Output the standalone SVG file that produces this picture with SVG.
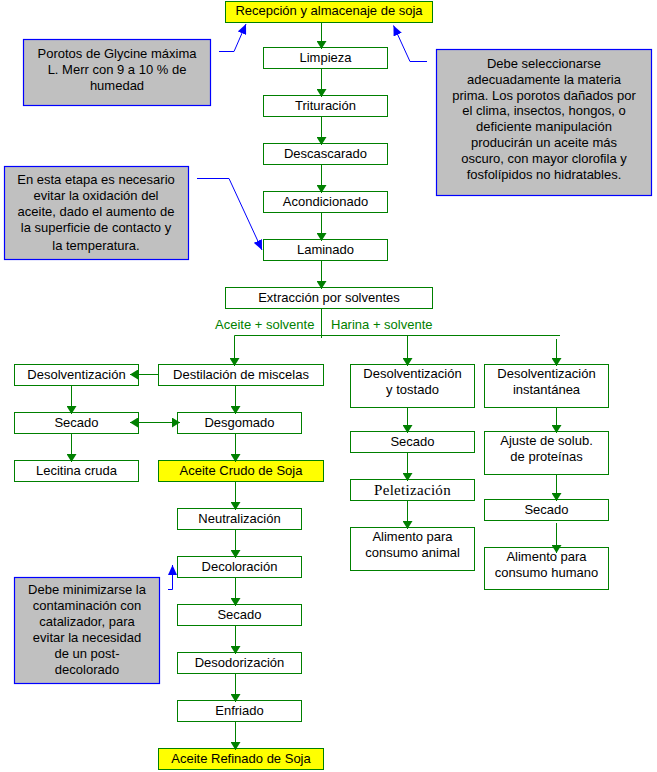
<svg xmlns="http://www.w3.org/2000/svg" width="657" height="772" viewBox="0 0 657 772">
<style>
text{font-family:"Liberation Sans",Arial,sans-serif;font-size:13px;fill:#000;text-anchor:middle}
.box{fill:#fff;stroke:#008000;stroke-width:1}
.hl{fill:#ffff00;stroke:#008000;stroke-width:1}
.note{fill:#c0c0c0;stroke:#0000ff;stroke-width:1.2}
.g{stroke:#008000;stroke-width:1;fill:none;marker-end:url(#ga)}
.gn{stroke:#008000;stroke-width:1;fill:none}
.b{stroke:#0000ff;stroke-width:1;fill:none;marker-end:url(#ba)}
.lbl{fill:#008000;text-anchor:start}
.serif{font-family:"Liberation Serif","Times New Roman",serif;font-size:15px;letter-spacing:0.3px}
</style>
<defs>
<marker id="ga" viewBox="0 0 8 10" refX="8" refY="5" markerWidth="8" markerHeight="10" markerUnits="userSpaceOnUse" orient="auto-start-reverse"><path d="M0,0L8,5L0,10z" fill="#008000"/></marker>
<marker id="ba" viewBox="0 0 10 9" refX="10" refY="4.5" markerWidth="10" markerHeight="9" markerUnits="userSpaceOnUse" orient="auto"><path d="M0,0L10,4.5L0,9z" fill="#0000ff"/></marker>
</defs>
<rect width="657" height="772" fill="#fff"/>

<g id="recepcion"><rect class="hl" x="225.5" y="1.5" width="207" height="21"/><text x="329" y="14.5">Recepción y almacenaje de soja</text></g>
<g id="limpieza"><rect class="box" x="263.5" y="47.5" width="124" height="21"/><text x="325.5" y="62">Limpieza</text></g>
<g id="trituracion"><rect class="box" x="263.5" y="95.5" width="124" height="21"/><text x="325.5" y="110">Trituración</text></g>
<g id="descascarado"><rect class="box" x="263.5" y="143.5" width="124" height="21"/><text x="325.5" y="158">Descascarado</text></g>
<g id="acondicionado"><rect class="box" x="263.5" y="191.5" width="124" height="21"/><text x="325.5" y="206">Acondicionado</text></g>
<g id="laminado"><rect class="box" x="263.5" y="239.5" width="124" height="21"/><text x="325.5" y="254">Laminado</text></g>
<g id="extraccion"><rect class="box" x="225.5" y="287.5" width="207" height="21"/><text x="329" y="302">Extracción por solventes</text></g>

<g id="destilacion"><rect class="box" x="158.5" y="364.5" width="165" height="21"/><text x="241" y="378.5">Destilación de miscelas</text></g>
<g id="desolv-left"><rect class="box" x="14.5" y="364.5" width="124" height="21"/><text x="76.5" y="378.5">Desolventización</text></g>
<g id="secado-left"><rect class="box" x="14.5" y="412.5" width="124" height="21"/><text x="76.5" y="426.5">Secado</text></g>
<g id="desgomado"><rect class="box" x="177.5" y="412.5" width="124" height="21"/><text x="239.5" y="426.5">Desgomado</text></g>
<g id="lecitina"><rect class="box" x="14.5" y="460.5" width="124" height="21"/><text x="76.5" y="474.5">Lecitina cruda</text></g>
<g id="aceite-crudo"><rect class="hl" x="158.5" y="460.5" width="165" height="21"/><text x="241" y="474.5">Aceite Crudo de Soja</text></g>
<g id="neutralizacion"><rect class="box" x="177.5" y="508.5" width="124" height="21"/><text x="239.5" y="522.5">Neutralización</text></g>
<g id="decoloracion"><rect class="box" x="177.5" y="556.5" width="124" height="21"/><text x="239.5" y="570.5">Decoloración</text></g>
<g id="secado-bottom"><rect class="box" x="177.5" y="604.5" width="124" height="21"/><text x="239.5" y="618.5">Secado</text></g>
<g id="desodorizacion"><rect class="box" x="177.5" y="652.5" width="124" height="21"/><text x="239.5" y="666.5">Desodorización</text></g>
<g id="enfriado"><rect class="box" x="177.5" y="700.5" width="124" height="21"/><text x="239.5" y="714.5">Enfriado</text></g>
<g id="aceite-refinado"><rect class="hl" x="158.5" y="748.5" width="165" height="21"/><text x="241" y="762.5">Aceite Refinado de Soja</text></g>

<g id="desolv-tostado"><rect class="box" x="350.5" y="364.5" width="124" height="43"/><text x="412.5" y="378">Desolventización</text><text x="412.5" y="394">y tostado</text></g>
<g id="secado-mid"><rect class="box" x="350.5" y="431.5" width="124" height="21"/><text x="412.5" y="445.5">Secado</text></g>
<g id="peletizacion"><rect class="box" x="350.5" y="479.5" width="124" height="21"/><text class="serif" x="412.5" y="495">Peletización</text></g>
<g id="alimento-animal"><rect class="box" x="350.5" y="527.5" width="124" height="43"/><text x="412.5" y="541">Alimento para</text><text x="412.5" y="557">consumo animal</text></g>

<g id="desolv-instant"><rect class="box" x="484.5" y="364.5" width="124" height="43"/><text x="546.5" y="378">Desolventización</text><text x="546.5" y="394">instantánea</text></g>
<g id="ajuste"><rect class="box" x="484.5" y="431.5" width="124" height="43"/><text x="546.5" y="445">Ajuste de solub.</text><text x="546.5" y="461">de proteínas</text></g>
<g id="secado-right"><rect class="box" x="484.5" y="499.5" width="124" height="21"/><text x="546.5" y="513.5">Secado</text></g>
<g id="alimento-humano"><rect class="box" x="484.5" y="547.5" width="124" height="42"/><text x="546.5" y="561">Alimento para</text><text x="546.5" y="577">consumo humano</text></g>

<g id="nota-porotos"><rect class="note" x="23.5" y="39.5" width="187" height="66"/><text x="117" y="58">Porotos de Glycine máxima</text><text x="117" y="74">L. Merr con 9 a 10 % de</text><text x="117" y="90">humedad</text></g>
<g id="nota-materia"><rect class="note" x="436.5" y="49.5" width="215" height="146"/><text x="544" y="68">Debe seleccionarse</text><text x="544" y="84">adecuadamente la materia</text><text x="544" y="99.5">prima. Los porotos dañados por</text><text x="544" y="115">el clima, insectos, hongos, o</text><text x="544" y="131">deficiente manipulación</text><text x="544" y="147">producirán un aceite más</text><text x="544" y="163">oscuro, con mayor clorofila y</text><text x="544" y="178.5">fosfolípidos no hidratables.</text></g>
<g id="nota-oxidacion"><rect class="note" x="4.5" y="166.5" width="184" height="93"/><text x="96" y="184">En esta etapa es necesario</text><text x="96" y="200">evitar la oxidación del</text><text x="96" y="216">aceite, dado el aumento de</text><text x="96" y="232">la superficie de contacto y</text><text x="96" y="249.5">la temperatura.</text></g>
<g id="nota-catalizador"><rect class="note" x="14.5" y="577.5" width="145" height="106"/><text x="87" y="594">Debe minimizarse la</text><text x="87" y="610">contaminación con</text><text x="87" y="626">catalizador, para</text><text x="87" y="642">evitar la necesidad</text><text x="87" y="657.5">de un post-</text><text x="87" y="674">decolorado</text></g>

<g id="connectors">
<path class="g" d="M321.5,22V49"/>
<path class="g" d="M321.5,68V97"/>
<path class="g" d="M321.5,116V145"/>
<path class="g" d="M321.5,164V193"/>
<path class="g" d="M321.5,212V241"/>
<path class="g" d="M321.5,260V289"/>
<path class="gn" d="M321.5,308V338"/>
<path class="gn" d="M234.5,335.5H560"/>
<path class="g" d="M234.5,335.5V366"/>
<path class="g" d="M407.5,335.5V366"/>
<path class="g" d="M556.5,339V366"/>
<path class="g" d="M235.5,385V414"/>
<path class="g" d="M235.5,433V462"/>
<path class="g" d="M235.5,481V510"/>
<path class="g" d="M235.5,529V558"/>
<path class="g" d="M235.5,577V606"/>
<path class="g" d="M235.5,625V654"/>
<path class="g" d="M235.5,673V702"/>
<path class="g" d="M235.5,721V750"/>
<path class="g" d="M158,374.5H130"/>
<path class="g" d="M71.5,385V414"/>
<path class="g" d="M71.5,433V462"/>
<path class="g" style="marker-start:url(#ga)" d="M130,422.5H180"/>
<path class="g" d="M407.5,407V433"/>
<path class="g" d="M407.5,452V481"/>
<path class="g" d="M407.5,500V529"/>
<path class="g" d="M556.5,407V433"/>
<path class="g" d="M556.5,474V501"/>
<path class="g" d="M556.5,523V553"/>
<path class="b" d="M219,51.5H234L246,24"/>
<path class="b" d="M427,61.5H410L393.5,25.5"/>
<path class="b" d="M197,178.5H229L262,250"/>
<path class="b" d="M168,589.5H172.5V565"/>
<text class="lbl" x="215" y="329">Aceite + solvente</text>
<text class="lbl" x="331" y="329">Harina + solvente</text>
</g>
</svg>
